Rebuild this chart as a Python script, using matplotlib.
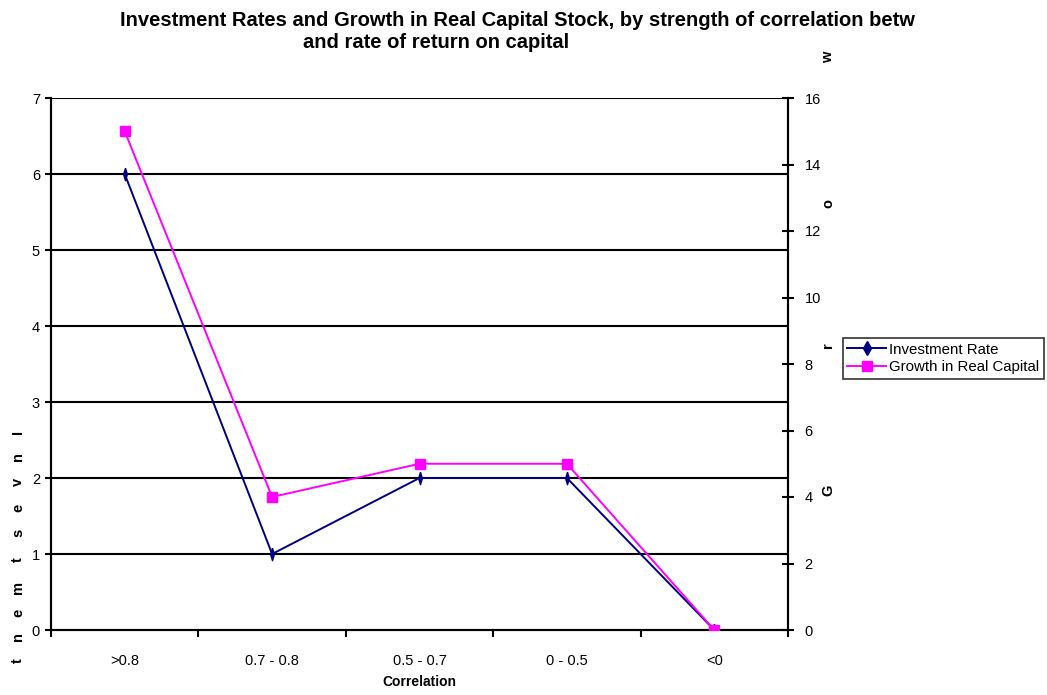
import numpy as np
import matplotlib.pyplot as plt

plt.rcParams['font.family'] = ['Liberation Sans', 'DejaVu Sans']

categories = [">0.8", "0.7 - 0.8", "0.5 - 0.7", "0 - 0.5", "<0"]
investment = [6, 1, 2, 2, 0]
growth = [15, 4, 5, 5, 0]

fig = plt.figure(figsize=(10.47, 6.95), dpi=100)
ax = fig.add_axes([51/1047, 65/695, 737/1047, 532/695])
ax2 = ax.twinx()

thin_diamond = [(0, 1), (0.3, 0), (0, -1), (-0.3, 0), (0, 1)]
x = np.arange(len(categories))
ax.plot(x, investment, color='#000080', lw=1.4, marker=thin_diamond, markersize=9,
        zorder=3)
ax2.plot(x, growth, color='#FF00FF', lw=1.4, marker='s', markersize=6.5,
         zorder=3)

ax.set_xlim(-0.5, len(categories) - 0.5)
ax.set_ylim(0, 7)
ax2.set_ylim(0, 16)
ax.set_yticks(range(0, 8))
ax2.set_yticks(range(0, 17, 2))
for i in range(1, 8):
    ax.axhline(i, color='black', lw=1.5, zorder=1)

ax.set_xticks(x)
ax.set_xticklabels(categories, fontsize=10.5)
ax.set_xticks(np.arange(-0.5, len(categories), 1), minor=True)
ax.tick_params(axis='x', which='major', length=0, pad=17)
ax.tick_params(axis='x', which='minor', length=5, width=1.5, direction='out')
ax.tick_params(axis='y', labelsize=10.5, length=4, width=1.5, direction='out', pad=4)
ax2.tick_params(axis='y', labelsize=10.5, length=8, width=1.5, direction='inout', pad=8)

for a in (ax, ax2):
    a.spines['top'].set_visible(False)
    for s in ('left', 'right', 'bottom'):
        a.spines[s].set_linewidth(1.5)

ax.set_xlabel("Correlation", fontsize=10, fontweight='bold', labelpad=5)

# stacked letters of the axis titles, as they appear in the original
left_word = "Investment"
left_y = [432, 457, 482, 508, 533, 560, 587, 613, 637, 661]
for ch, py in zip(left_word, left_y):
    fig.text(18/1047, 1 - py/695, ch, rotation=90, fontsize=10.5, fontweight='bold',
             ha='center', va='center')
right_word = "Grow"
right_y = [490, 345, 203, 57]
for ch, py in zip(right_word, right_y):
    fig.text(828/1047, 1 - py/695, ch, rotation=90, fontsize=10.5, fontweight='bold',
             ha='center', va='center')

fig.text(120/1047, 1 - 20/695,
         "Investment Rates and Growth in Real Capital Stock, by strength of correlation betw",
         fontsize=14.5, fontweight='bold', ha='left', va='center')
fig.text(436/1047, 1 - 42/695, "and rate of return on capital",
         fontsize=14.5, fontweight='bold', ha='center', va='center')

h1 = plt.Line2D([], [], color='#000080', lw=1.4, marker='d', markersize=7)
h2 = plt.Line2D([], [], color='#FF00FF', lw=1.4, marker='s', markersize=6.5)
leg = fig.legend([h1, h2], ["Investment Rate", "Growth in Real Capital"], loc='upper left',
                 bbox_to_anchor=(843/1047, 1 - 338/695), fontsize=10.8,
                 frameon=True, fancybox=False, edgecolor='black',
                 handlelength=2.6, handletextpad=0.2, borderpad=0.3,
                 labelspacing=0.25, borderaxespad=0)
leg.get_frame().set_linewidth(1.2)

fig.savefig("out.png", dpi=100)
